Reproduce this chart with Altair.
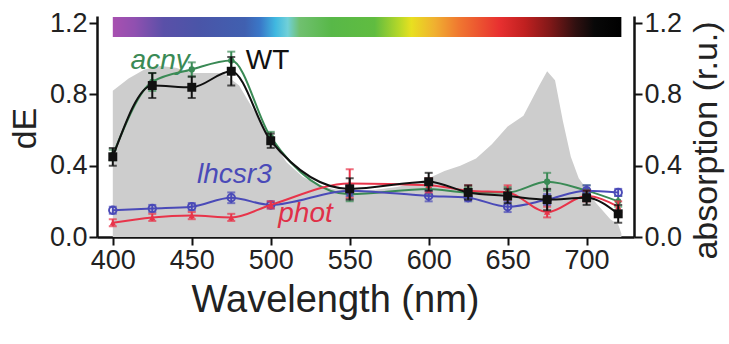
import altair as alt
import pandas as pd

# ---------------- data ----------------
wavelengths = [400, 425, 450, 475, 500, 550, 600, 625, 650, 675, 700, 720]

wt_val = [0.45, 0.85, 0.84, 0.93, 0.54, 0.27, 0.31, 0.25, 0.23, 0.21, 0.22, 0.13]
wt_err = [0.05, 0.07, 0.06, 0.08, 0.04, 0.06, 0.05, 0.04, 0.04, 0.06, 0.04, 0.05]

acny_val = [0.46, 0.87, 0.94, 0.99, 0.56, 0.24, 0.27, 0.25, 0.25, 0.31, 0.26, 0.20]
acny_err = [0.03, 0.05, 0.04, 0.05, 0.03, 0.04, 0.03, 0.03, 0.03, 0.05, 0.03, 0.03]

lhcsr3_val = [0.15, 0.16, 0.17, 0.22, 0.18, 0.26, 0.23, 0.22, 0.17, 0.21, 0.26, 0.25]
lhcsr3_err = [0.02, 0.02, 0.02, 0.03, 0.02, 0.03, 0.03, 0.02, 0.03, 0.03, 0.03, 0.02]

phot_val = [0.08, 0.11, 0.12, 0.11, 0.18, 0.30, 0.29, 0.26, 0.25, 0.14, 0.23, 0.17]
phot_err = [0.02, 0.02, 0.02, 0.02, 0.02, 0.08, 0.04, 0.03, 0.04, 0.03, 0.03, 0.03]

# absorption spectrum (grey area, right axis)
abs_wl = [400, 410, 420, 430, 440, 450, 460, 470, 480, 490, 500, 510, 520, 530,
          540, 550, 560, 570, 580, 590, 600, 610, 620, 630, 640, 650, 660, 670,
          675, 680, 685, 690, 695, 700, 705, 710, 715, 720, 722]
abs_val = [0.82, 0.89, 0.94, 0.96, 0.95, 0.92, 0.92, 0.92, 0.85, 0.70, 0.55, 0.42,
           0.34, 0.29, 0.27, 0.26, 0.26, 0.27, 0.28, 0.30, 0.33, 0.37, 0.40, 0.44,
           0.52, 0.62, 0.68, 0.85, 0.93, 0.88, 0.65, 0.45, 0.33, 0.27, 0.20, 0.15,
           0.10, 0.07, 0.02]

# spectral colour bar
bar_start, bar_end = 400, 722
bar_low, bar_high = 1.122, 1.235
bar_offsets = [0.0, 0.043, 0.10, 0.17, 0.26, 0.29, 0.32, 0.344, 0.367, 0.43, 0.515,
               0.564, 0.587, 0.633, 0.68, 0.76, 0.81, 0.86, 0.91, 0.947, 1.0]
bar_colors = ["#a850b0", "#9050b0", "#5a50a8", "#4a55a8", "#4060b0", "#3a78c8",
              "#40b8e0", "#70d0d8", "#70c070", "#58b848", "#60bc40", "#b8d828",
              "#e8e020", "#f0b030", "#f07830", "#e83030", "#c02020", "#801818",
              "#301010", "#080808", "#000000"]

x_ticks = [400, 450, 500, 550, 600, 650, 700]
y_ticks = [0.0, 0.4, 0.8, 1.2]

series_names = ["acny", "lhcsr3", "phot", "WT"]
series_vals = [acny_val, lhcsr3_val, phot_val, wt_val]
series_errs = [acny_err, lhcsr3_err, phot_err, wt_err]
series_colors = ["#3a8a55", "#4a4ab8", "#e8344a", "#111111"]
series_shapes = ["circle", "circle", "triangle-up", "square"]
series_sizes = [40, 55, 40, 80]
series_filled = [True, False, True, True]

label_texts = ["acny", "WT", "lhcsr3", "phot"]
label_x = [430, 498, 477, 522]
label_y = [0.99, 0.99, 0.35, 0.13]
label_colors = ["#3a8a55", "#111111", "#4a4ab8", "#e03048"]
label_italic = [True, False, True, True]

# ---------------- chart ----------------
FONT = "Liberation Sans"
x_dom = [390, 730]
y_dom = [0, 1.24]

x_axis = alt.Axis(values=x_ticks, format="d", title="Wavelength (nm)",
                  titleX=238, titleY=63, titleBaseline="middle",
                  titleFontSize=38, titleFontWeight="normal")
y_axis = alt.Axis(values=y_ticks, format=".1f", title="dE", orient="left",
                  titleX=-72, titleY=112, titleAngle=270, titleBaseline="middle",
                  titleAlign="center", titleFontSize=34, titleFontWeight="normal")
r_axis = alt.Axis(values=y_ticks, format=".1f", title="absorption (r.u.)",
                  orient="right", titleX=72, titleY=124, titleAngle=270,
                  titleBaseline="middle", titleAlign="center",
                  titleFontSize=34, titleFontWeight="normal")


def X(field):
    return alt.X(field, type="quantitative", scale=alt.Scale(domain=x_dom, nice=False, zero=False),
                 axis=x_axis)


def Y(field):
    return alt.Y(field, type="quantitative", scale=alt.Scale(domain=y_dom, nice=False),
                 axis=y_axis)


abs_df = pd.DataFrame({"wl": abs_wl, "absorption": abs_val})
area = alt.Chart(abs_df).mark_area(color="#cdcdcd", opacity=1, interpolate="linear").encode(
    x=X("wl"),
    y=alt.Y("absorption", type="quantitative",
            scale=alt.Scale(domain=y_dom, nice=False), axis=r_axis),
)

bar_df = pd.DataFrame({"x0": [bar_start], "x1": [bar_end], "y0": [bar_low], "y1": [bar_high]})
gradient = alt.Gradient(
    gradient="linear",
    stops=[alt.GradientStop(color=c, offset=o) for o, c in zip(bar_offsets, bar_colors)],
    x1=0, x2=1, y1=0, y2=0,
)
colorbar = alt.Chart(bar_df).mark_rect(color=gradient).encode(
    x=X("x0"), x2="x1", y=Y("y0"), y2="y1"
)

layers = [colorbar]
for name, vals, errs, col, shp, sz, fl in zip(series_names, series_vals, series_errs,
                                               series_colors, series_shapes,
                                               series_sizes, series_filled):
    df = pd.DataFrame({
        "wl": wavelengths,
        "v": vals,
        "lo": [v - e for v, e in zip(vals, errs)],
        "hi": [v + e for v, e in zip(vals, errs)],
    })
    base = alt.Chart(df)
    line = base.mark_line(color=col, strokeWidth=2, interpolate="monotone").encode(
        x=X("wl"), y=Y("v"))
    rule = base.mark_rule(color=col, strokeWidth=2).encode(x=X("wl"), y=Y("lo"), y2="hi")
    cap_lo = base.mark_tick(color=col, thickness=2, size=8, orient="horizontal").encode(
        x=X("wl"), y=Y("lo"))
    cap_hi = base.mark_tick(color=col, thickness=2, size=8, orient="horizontal").encode(
        x=X("wl"), y=Y("hi"))
    pts = base.mark_point(color=col, shape=shp, size=sz, filled=fl, opacity=1,
                          strokeWidth=2).encode(x=X("wl"), y=Y("v"))
    layers += [line, rule, cap_lo, cap_hi, pts]

lab_df = pd.DataFrame({"t": label_texts, "x": label_x, "y": label_y,
                       "c": label_colors, "it": label_italic})
lab_it = alt.Chart(lab_df[lab_df["it"]]).mark_text(
    font=FONT, fontSize=28, fontStyle="italic", align="center", baseline="middle"
).encode(x=X("x"), y=Y("y"), text="t", color=alt.Color("c", type="nominal", scale=None))
lab_n = alt.Chart(lab_df[~lab_df["it"]]).mark_text(
    font=FONT, fontSize=28, align="center", baseline="middle"
).encode(x=X("x"), y=Y("y"), text="t", color=alt.Color("c", type="nominal", scale=None))
layers += [lab_it, lab_n]

inner = alt.layer(*layers)

chart = alt.layer(area, inner).resolve_scale(y="independent").properties(
    width=537, height=221,
    autosize=alt.AutoSizeParams(type="none"),
    padding={"left": 97, "top": 16, "right": 95, "bottom": 107},
).configure_view(stroke=None).configure_axis(
    grid=False, domainColor="#111", domainWidth=2.5, tickColor="#111", tickWidth=2,
    tickSize=8, labelFont=FONT, labelFontSize=27, labelColor="#222", labelPadding=2,
    titleFont=FONT, titleColor="#222",
)

chart.save("out.html", embed_options={"renderer": "svg", "actions": False})
